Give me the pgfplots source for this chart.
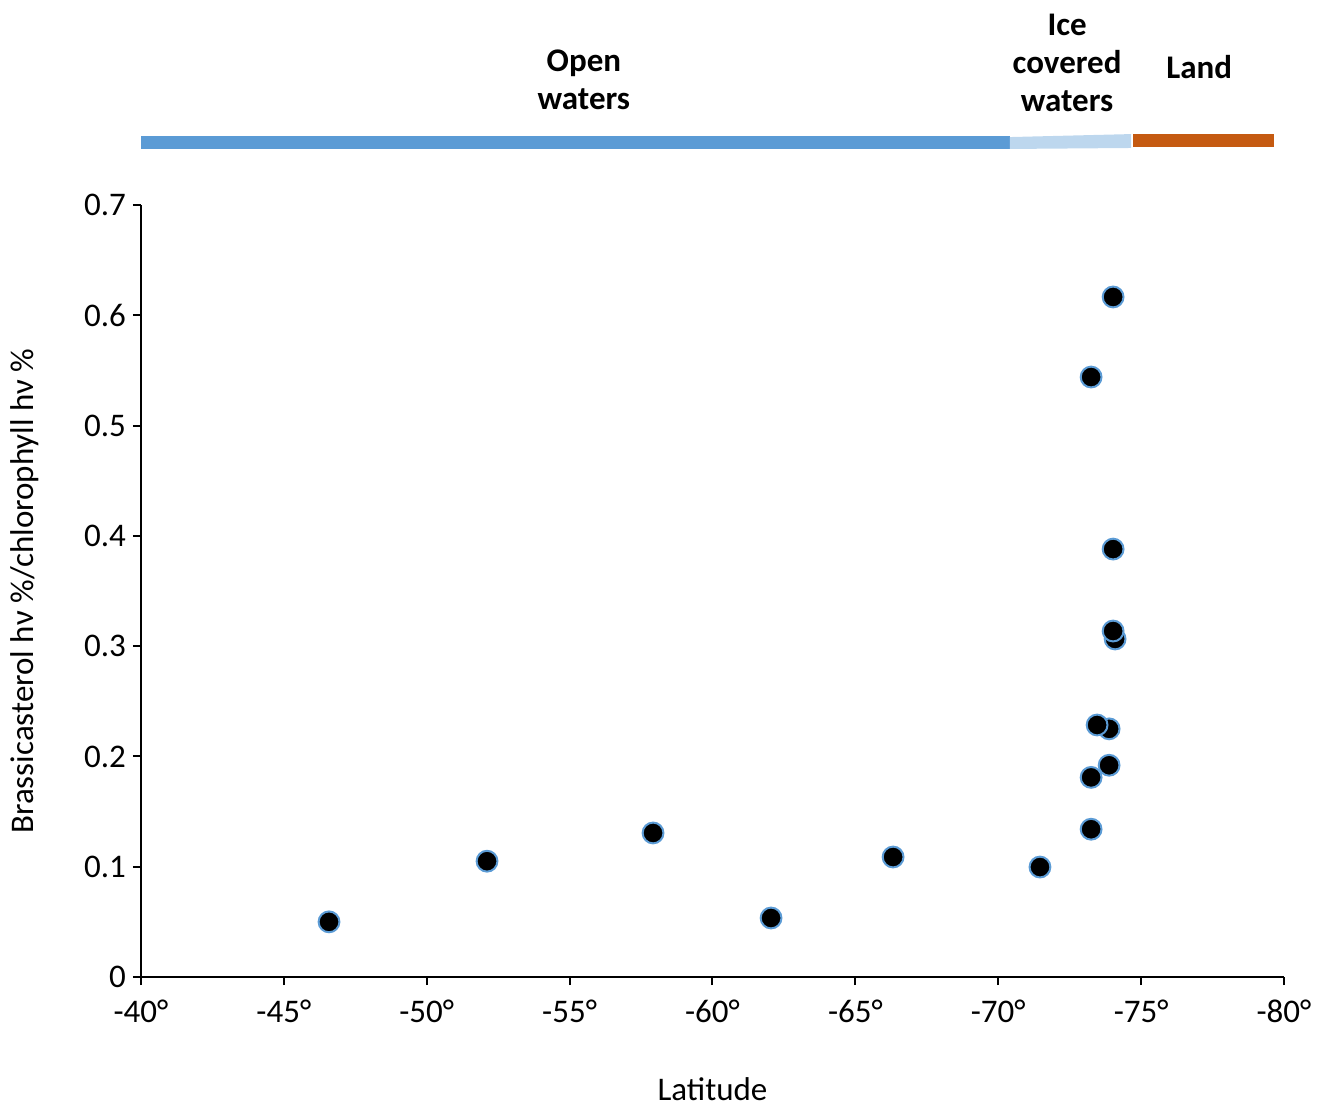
\documentclass[border=0pt]{standalone}
\usepackage{fontspec}
\setmainfont{Carlito}
\usepackage{pgfplots}
\pgfplotsset{compat=1.18}
\definecolor{cblue}{HTML}{5B9BD5}
\definecolor{clblue}{HTML}{BDD7EE}
\definecolor{corange}{HTML}{C55A11}
\begin{document}
\begin{tikzpicture}
\begin{axis}[
  name=ax,
  scale only axis,
  width=571.5pt, height=386pt,
  xmin=-80, xmax=-40, x dir=reverse,
  ymin=0, ymax=0.7,
  axis x line*=bottom, axis y line*=left,
  axis line style={line width=1pt, black},
  clip=false,
  xtick={-40,-45,-50,-55,-60,-65,-70,-75,-80},
  xticklabels={{-40°},{-45°},{-50°},{-55°},{-60°},{-65°},{-70°},{-75°},{-80°}},
  ytick={0,0.1,0.2,0.3,0.4,0.5,0.6,0.7},
  yticklabel style={/pgf/number format/fixed, /pgf/number format/assume math mode=true},
  tick style={black, line width=1pt},
  tick align=outside,
  major tick length=4pt,
  ticklabel style={font=\fontsize{16.5}{19}\selectfont},
  xticklabel style={yshift=-4pt},
  yticklabel style={xshift=0pt},
  xlabel={Latitude},
  ylabel={Brassicasterol hν \%/chlorophyll hν \%},
  label style={font=\fontsize{16.5}{19}\selectfont},
  xlabel style={at={([yshift=-56pt]axis description cs:0.5,0)}, anchor=center},
  ylabel style={at={([xshift=-58pt]axis description cs:0,0.5)}, anchor=center},
]
% top zone bars
\fill[cblue] (axis cs:-40,0.7508) rectangle (axis cs:-70.41,0.7625);
\fill[clblue] (axis cs:-70.41,0.7508) -- (axis cs:-70.41,0.7616) -- (axis cs:-74.65,0.7643) -- (axis cs:-74.65,0.7517) -- cycle;
\fill[corange] (axis cs:-74.7,0.7526) rectangle (axis cs:-79.65,0.7643);
\node[font=\fontsize{16.5}{19}\selectfont\bfseries, align=center] at (axis cs:-55.5,0.8133) {Open\\waters};
\node[font=\fontsize{16.5}{19}\selectfont\bfseries, align=center] at (axis cs:-72.41,0.8287) {Ice\\covered\\waters};
\node[font=\fontsize{16.5}{19}\selectfont\bfseries, align=center] at (axis cs:-77.03,0.825) {Land};
\addplot[only marks, mark=*, mark size=5.2pt, mark options={fill=black, draw=cblue, line width=1pt}] coordinates {
(-46.58,0.050)
(-52.11,0.105)
(-57.92,0.1306)
(-62.05,0.0535)
(-66.32,0.1088)
(-71.46,0.0997)
(-73.25,0.134)
(-73.25,0.181)
(-73.88,0.192)
(-73.88,0.225)
(-73.46,0.2285)
(-74.09,0.3065)
(-74.02,0.3137)
(-74.02,0.388)
(-73.25,0.544)
(-74.02,0.6166)
};
\end{axis}
\path ([xshift=-70.5pt,yshift=-64.5pt]ax.south west) rectangle ([xshift=17.5pt,yshift=102.5pt]ax.north east);
\end{tikzpicture}
\end{document}
